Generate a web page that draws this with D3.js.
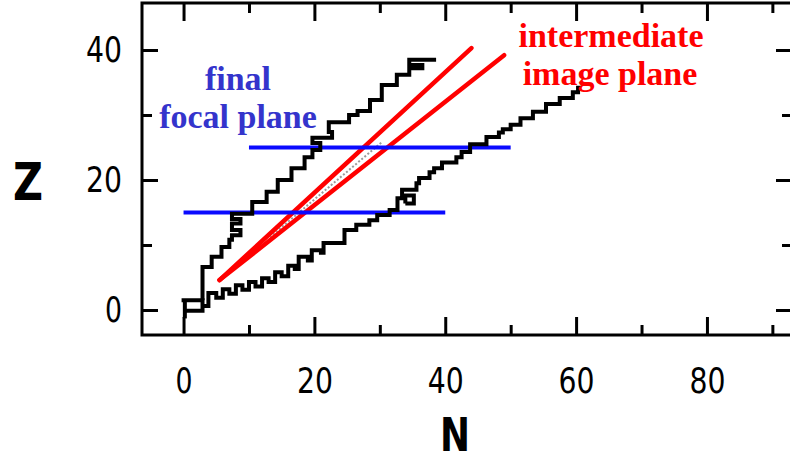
<!DOCTYPE html>
<html>
<head>
<meta charset="utf-8">
<script src="https://cdn.jsdelivr.net/npm/d3@7"></script>
<style>
  html, body { margin: 0; padding: 0; background: #fff; }
  svg { display: block; }
</style>
</head>
<body>
<div id="chart"></div>
<script>
// Tick values
const xMajor = [0, 20, 40, 60, 80];
const xMinor = [10, 30, 50, 70, 90];
const zMajor = [0, 20, 40];
const zMinor = [10, 30];

// Drip lines, [N, Z] corners
const protonDrip = [
  [2.9, 1.5], [2.9, 6.6], [4.3, 6.6], [4.3, 8.2], [5.8, 8.2], [5.8, 9.7], [7.0, 9.7], [7.0, 10.8],
  [7.4, 10.8], [7.4, 11.5], [8.7, 11.5], [8.7, 12.3], [7.4, 12.3], [7.4, 13.3], [8.7, 13.3], [8.7, 14.0],
  [7.4, 14.0], [7.4, 14.8], [10.5, 14.8], [10.5, 16.6], [12.7, 16.6], [12.7, 18.2], [14.4, 18.2],
  [14.4, 20.0], [16.5, 20.0], [16.5, 21.8], [18.5, 21.8], [18.5, 23.5], [19.7, 23.5], [19.7, 24.6],
  [20.9, 24.6], [20.9, 25.7], [19.7, 25.7], [19.7, 26.5], [22.7, 26.5], [22.7, 27.4], [22.2, 27.4],
  [22.2, 28.9], [25.3, 28.9], [25.3, 30.0], [26.6, 30.0], [26.6, 30.6], [28.5, 30.6], [28.5, 32.3],
  [30.3, 32.3], [30.3, 34.6], [32.6, 34.6], [32.6, 36.2], [34.5, 36.2], [34.5, 37.2], [36.5, 37.2],
  [36.5, 37.7], [34.5, 37.7], [34.5, 38.5], [38.6, 38.5]
];
const neutronDrip = [
  [2.9, 0.6], [3.8, 0.6], [3.8, 2.6], [5.0, 2.6], [5.0, 1.9], [6.0, 1.9], [6.0, 3.2], [7.0, 3.2],
  [7.0, 2.5], [8.0, 2.5], [8.0, 3.8], [9.0, 3.8], [9.0, 3.1], [10.0, 3.1], [10.0, 4.3], [11.0, 4.3],
  [11.0, 3.6], [12.0, 3.6], [12.0, 4.9], [13.0, 4.9], [13.0, 4.3], [14.0, 4.3], [14.0, 5.8], [15.0, 5.8],
  [15.0, 5.2], [16.0, 5.2], [16.0, 6.8], [17.0, 6.8], [17.0, 6.3], [17.6, 6.3], [17.6, 8.2], [19.0, 8.2],
  [19.0, 7.6], [19.6, 7.6], [19.6, 9.2], [21.0, 9.2], [21.0, 8.8], [21.4, 8.8], [21.4, 10.3], [24.6, 10.3],
  [24.6, 12.3], [26.4, 12.3], [26.4, 13.1], [28.4, 13.1], [28.4, 13.8], [29.6, 13.8], [29.6, 14.6],
  [31.5, 14.6], [31.5, 15.4], [32.7, 15.4], [32.7, 17.2], [33.4, 17.2], [33.4, 18.5], [35.6, 18.5],
  [35.6, 19.5], [36.0, 19.5], [36.0, 20.3], [37.6, 20.3], [37.6, 21.2], [38.3, 21.2], [38.3, 21.8],
  [39.5, 21.8], [39.5, 22.7], [41.7, 22.7], [41.7, 23.5], [42.5, 23.5], [42.5, 24.3], [43.8, 24.3],
  [43.8, 25.5], [46.3, 25.5], [46.3, 26.6], [48.2, 26.6], [48.2, 27.3], [48.8, 27.3], [48.8, 27.8],
  [50.0, 27.8], [50.0, 28.5], [51.5, 28.5], [51.5, 29.5], [53.4, 29.5], [53.4, 30.5], [55.4, 30.5],
  [55.4, 31.7], [57.5, 31.7], [57.5, 32.6], [59.5, 32.6], [59.5, 33.5], [60.3, 33.5], [60.3, 34.2], [60.8, 34.2]
];
const lightNuclei = [
  [[-0.3, 1.5], [2.9, 1.5], [2.9, -0.1], [0.2, -0.1]],
  [[0.2, -1.3], [0.2, 1.5]]
];
const smallLoop = [[33.9, 16.4], [35.2, 16.4], [35.2, 17.6], [33.9, 17.6], [33.9, 16.4]];

// Intermediate image plane lines and the grey trace between them
const imageLines = [
  [[5.5, 4.6], [44, 40.3]],
  [[5.5, 4.6], [49, 39.2]]
];
const imageMid = [[13.2, 11.2], [30.4, 25.9]];

// Focal planes: Z level and N extent
const focalZ = [15, 25];
const focalN0 = [0, 10];
const focalN1 = [40, 50];

const width = 790, height = 462;
const svg = d3.select("#chart").append("svg")
    .attr("width", width)
    .attr("height", height);

const x = d3.scaleLinear().domain([-6.35, 93.0]).range([142, 792]);
const y = d3.scaleLinear().domain([-3.85, 47.23]).range([335, 3]);

const line = d3.line().x(d => x(d[0])).y(d => y(d[1]));

// red image plane lines
svg.append("path")
    .attr("d", line(imageMid))
    .attr("fill", "none")
    .attr("stroke", "#9a9a9a")
    .attr("stroke-width", 2)
    .attr("stroke-dasharray", "2,2");

svg.selectAll(".image-line")
    .data(imageLines)
    .enter().append("path")
    .attr("class", "image-line")
    .attr("d", line)
    .attr("fill", "none")
    .attr("stroke", "#ff0000")
    .attr("stroke-width", 4.5)
    .attr("stroke-linecap", "round");

// blue focal planes
svg.selectAll(".focal")
    .data(focalZ)
    .enter().append("line")
    .attr("class", "focal")
    .attr("x1", (d, i) => x(focalN0[i]))
    .attr("x2", (d, i) => x(focalN1[i]))
    .attr("y1", d => y(d))
    .attr("y2", d => y(d))
    .attr("stroke", "#0a0aff")
    .attr("stroke-width", 4);

// drip lines
[protonDrip, neutronDrip, smallLoop, ...lightNuclei].forEach(pts => {
    svg.append("path")
        .attr("d", line(pts))
        .attr("fill", "none")
        .attr("stroke", "#000")
        .attr("stroke-width", 4)
        .attr("stroke-linejoin", "miter");
});

// axes with inward ticks
function styleAxis(g) {
    g.select(".domain").remove();
    g.selectAll("line").attr("stroke", "#000").attr("stroke-width", 3);
}

const bottomAxis = svg.append("g").attr("transform", `translate(0,${y.range()[0]})`);
bottomAxis.call(d3.axisBottom(x).tickValues(xMajor).tickSizeInner(-18).tickSizeOuter(0).tickPadding(32))
    .call(styleAxis);
bottomAxis.append("g").call(d3.axisBottom(x).tickValues(xMinor).tickSizeInner(-10).tickSizeOuter(0).tickFormat(""))
    .call(styleAxis);

const topAxis = svg.append("g").attr("transform", `translate(0,${y.range()[1]})`);
topAxis.call(d3.axisTop(x).tickValues(xMajor).tickSizeInner(-18).tickSizeOuter(0).tickFormat(""))
    .call(styleAxis);
topAxis.append("g").call(d3.axisTop(x).tickValues(xMinor).tickSizeInner(-10).tickSizeOuter(0).tickFormat(""))
    .call(styleAxis);

const leftAxis = svg.append("g").attr("transform", `translate(${x.range()[0]},0)`);
leftAxis.call(d3.axisLeft(y).tickValues(zMajor).tickSizeInner(-16).tickSizeOuter(0).tickPadding(20))
    .call(styleAxis);
leftAxis.append("g").call(d3.axisLeft(y).tickValues(zMinor).tickSizeInner(-10).tickSizeOuter(0).tickFormat(""))
    .call(styleAxis);

const rightAxis = svg.append("g").attr("transform", `translate(${x.range()[1]},0)`);
rightAxis.call(d3.axisRight(y).tickValues(zMajor).tickSizeInner(-16).tickSizeOuter(0).tickFormat(""))
    .call(styleAxis);
rightAxis.append("g").call(d3.axisRight(y).tickValues(zMinor).tickSizeInner(-10).tickSizeOuter(0).tickFormat(""))
    .call(styleAxis);

[bottomAxis, leftAxis].forEach(g => {
    g.attr("font-family", "'DejaVu Sans', sans-serif").attr("font-size", 36);
    g.selectAll("text")
        .attr("fill", "#000")
        .attr("textLength", d => String(d).length * 19 - 2)
        .attr("lengthAdjust", "spacingAndGlyphs");
});

// frame
svg.append("rect")
    .attr("x", x.range()[0])
    .attr("y", y.range()[1])
    .attr("width", x.range()[1] - x.range()[0])
    .attr("height", y.range()[0] - y.range()[1])
    .attr("fill", "none")
    .attr("stroke", "#000")
    .attr("stroke-width", 3);

// axis titles
svg.append("text")
    .attr("x", 28).attr("y", 200)
    .attr("text-anchor", "middle")
    .attr("font-family", "'DejaVu Sans', sans-serif")
    .attr("font-weight", "bold")
    .attr("font-size", 51)
    .attr("textLength", 30).attr("lengthAdjust", "spacingAndGlyphs")
    .text("Z");

svg.append("text")
    .attr("x", 455).attr("y", 451)
    .attr("text-anchor", "middle")
    .attr("font-family", "'DejaVu Sans', sans-serif")
    .attr("font-weight", "bold")
    .attr("font-size", 46)
    .attr("textLength", 30).attr("lengthAdjust", "spacingAndGlyphs")
    .text("N");

// annotations
const serif = "'Liberation Serif', 'Times New Roman', serif";
[["final", 238, 90], ["focal plane", 238, 128]].forEach(([t, tx, ty]) => {
    svg.append("text").attr("x", tx).attr("y", ty)
        .attr("text-anchor", "middle")
        .attr("font-family", serif).attr("font-weight", "bold").attr("font-size", 34)
        .attr("fill", "#3434cc")
        .text(t);
});
[["intermediate", 611, 47], ["image plane", 610, 85]].forEach(([t, tx, ty]) => {
    svg.append("text").attr("x", tx).attr("y", ty)
        .attr("text-anchor", "middle")
        .attr("font-family", serif).attr("font-weight", "bold").attr("font-size", 34)
        .attr("fill", "#ff0000")
        .text(t);
});
</script>
</body>
</html>
